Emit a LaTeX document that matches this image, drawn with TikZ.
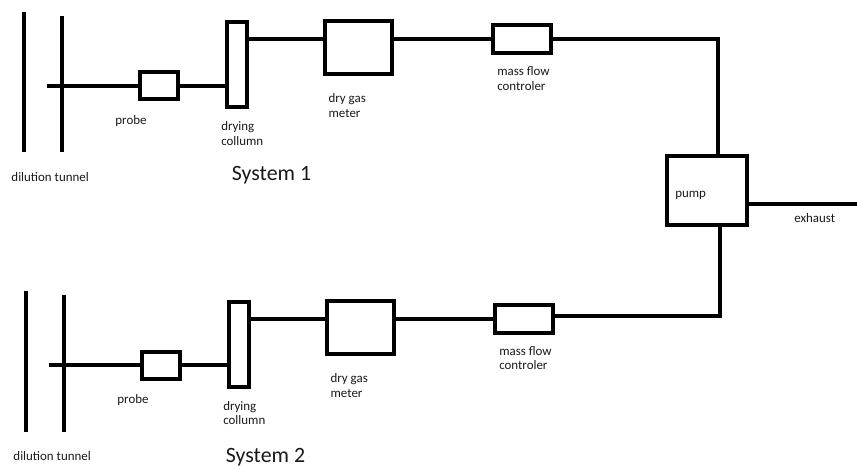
\documentclass[tikz,border=0pt]{standalone}
\usepackage{fontspec}
\setmainfont{Carlito}
\usetikzlibrary{positioning}

\begin{document}
\begin{tikzpicture}[
    x=0.75pt, y=-0.75pt,
    pipe/.style={line width=3pt, black},
    unit/.style={draw, line width=3pt, inner sep=0pt, fill=white},
    probebox/.style={unit, minimum width=28.5pt, minimum height=20.25pt},
    columnbox/.style={unit, minimum width=15pt, minimum height=63.75pt},
    meterbox/.style={unit, minimum width=50.25pt, minimum height=39.75pt},
    flowbox/.style={unit, minimum width=43.5pt, minimum height=21pt},
    pumpbox/.style={unit, minimum width=60pt, minimum height=51.75pt},
    lbl/.style={inner sep=0pt, align=left, font=\fontsize{9.7pt}{10.9pt}\selectfont, text=black!90},
    title/.style={inner sep=0pt, font=\fontsize{16.4pt}{19pt}\selectfont, text=black!90}
]
\useasboundingbox (0,0) rectangle (857,468);

% system 1
\coordinate (wall1a) at (23.5,12);
\coordinate (wall1b) at (23.5,152);
\coordinate (wall2a) at (62,16);
\coordinate (wall2b) at (62,152);
\coordinate (stub1) at (47,85.5);

\node[probebox] (probe1) at (159,85.5) {};
\node[columnbox, right=33.75pt of probe1, yshift=15.75pt] (column1) {};
\node[meterbox, right=55.5pt of column1, yshift=12.75pt] (meter1) {};
\node[flowbox, right=72.75pt of meter1, yshift=6.4pt] (flow1) {};
\node[pumpbox, right=84pt of flow1, yshift=-113.6pt] (pump) {};

\node[lbl, below=15pt of wall1b, xshift=20pt] (tunnel1) {dilution tunnel};
\node[lbl, below=10.5pt of probe1, xshift=-21pt] (probelbl1) {probe};
\node[lbl, below right=9.5pt and -3pt of column1.south west] (columnlbl1) {drying\\collumn};
\node[lbl, below right=13pt and 4pt of meter1.south west] (meterlbl1) {dry gas\\meter};
\node[lbl, below right=8.5pt and 4.5pt of flow1.south west] (flowlbl1) {mass flow\\controler};
\node[title, below right=42.5pt and 5pt of column1.south west] (system1) {System 1};
\node[lbl, anchor=west] (pumplbl) at (675,195) {pump};

% system 2
\coordinate (wall3a) at (25.5,291);
\coordinate (wall3b) at (25.5,432);
\coordinate (wall4a) at (63.7,295);
\coordinate (wall4b) at (63.7,432);
\coordinate (stub2) at (49,365);

\node[probebox] (probe2) at (161,365) {};
\node[columnbox, right=33.75pt of probe2, yshift=15.75pt] (column2) {};
\node[meterbox, right=55.5pt of column2, yshift=12.4pt] (meter2) {};
\node[flowbox, right=72.75pt of meter2, yshift=6.4pt] (flow2) {};

\node[lbl, below=14.5pt of wall3b, xshift=20pt] (tunnel2) {dilution tunnel};
\node[lbl, below=10.5pt of probe2, xshift=-21pt] (probelbl2) {probe};
\node[lbl, below right=9.5pt and -3pt of column2.south west] (columnlbl2) {drying\\collumn};
\node[lbl, below right=13pt and 4pt of meter2.south west] (meterlbl2) {dry gas\\meter};
\node[lbl, below right=8.5pt and 4.5pt of flow2.south west] (flowlbl2) {mass flow\\controler};
\node[title, below right=44.5pt and -1pt of column2.south west] (system2) {System 2};

% exhaust
\coordinate (outlet) at (857,203.5);
\node[lbl, anchor=west] (exhaustlbl) at (794,218) {exhaust};

\draw[pipe] (wall1a) -- (wall1b);
\draw[pipe] (wall2a) -- (wall2b);
\draw[pipe] (stub1) -- (probe1.west);
\draw[pipe] (probe1.east) -- (probe1.east -| column1.west);
\draw[pipe] (flow1.west -| column1.east) -- (flow1.west -| meter1.west);
\draw[pipe] (flow1.west -| meter1.east) -- (flow1.west);
\draw[pipe] (flow1.east) -| ([xshift=8.25pt]pump.north);

\draw[pipe] (wall3a) -- (wall3b);
\draw[pipe] (wall4a) -- (wall4b);
\draw[pipe] (stub2) -- (probe2.west);
\draw[pipe] (probe2.east) -- (probe2.east -| column2.west);
\draw[pipe] (flow2.west -| column2.east) -- (flow2.west -| meter2.west);
\draw[pipe] (flow2.west -| meter2.east) -- (flow2.west);
\draw[pipe] ([yshift=2pt]flow2.east) -| ([xshift=9.75pt]pump.south);

\draw[pipe] (pump.east |- outlet) -- (outlet);
\end{tikzpicture}
\end{document}
